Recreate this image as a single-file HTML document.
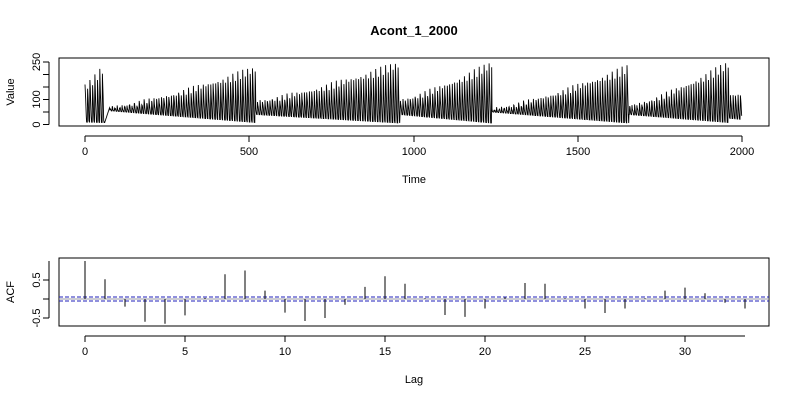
<!DOCTYPE html>
<html><head><meta charset="utf-8"><style>
body{margin:0;background:#fff;}
svg text{font-family:"Liberation Sans",sans-serif;font-size:11px;fill:#000;}
</style></head><body>
<svg id="s" width="800" height="400" xmlns="http://www.w3.org/2000/svg">
<rect width="800" height="400" fill="#fff"/>
<text x="414" y="35" text-anchor="middle" style="font-weight:bold;font-size:13px">Acont_1_2000</text>
<rect x="59" y="58" width="710" height="68" fill="none" stroke="#000" stroke-width="1"/>
<g id="ts"></g>
<g stroke="#000">
<line x1="85" y1="136" x2="742" y2="136"/>
<line x1="85" y1="136" x2="85" y2="142"/><line x1="249" y1="136" x2="249" y2="142"/><line x1="414" y1="136" x2="414" y2="142"/><line x1="578" y1="136" x2="578" y2="142"/><line x1="742" y1="136" x2="742" y2="142"/>
<line x1="49" y1="62" x2="49" y2="124.5"/>
<line x1="43" y1="124.5" x2="49" y2="124.5"/><line x1="43" y1="112" x2="49" y2="112"/><line x1="43" y1="99.5" x2="49" y2="99.5"/><line x1="43" y1="87" x2="49" y2="87"/><line x1="43" y1="74.5" x2="49" y2="74.5"/><line x1="43" y1="62" x2="49" y2="62"/>
</g>
<text x="85" y="155" text-anchor="middle">0</text><text x="249" y="155" text-anchor="middle">500</text><text x="414" y="155" text-anchor="middle">1000</text><text x="578" y="155" text-anchor="middle">1500</text><text x="742" y="155" text-anchor="middle">2000</text>
<g text-anchor="middle">
<text transform="translate(40,124.5) rotate(-90)">0</text>
<text transform="translate(40,99.5) rotate(-90)">100</text>
<text transform="translate(40,62) rotate(-90)">250</text>
</g>
<text x="414" y="183" text-anchor="middle">Time</text>
<text transform="translate(14,92) rotate(-90)" text-anchor="middle">Value</text>

<rect x="59" y="258" width="710" height="68" fill="none" stroke="#000"/>
<line x1="59" y1="297" x2="769" y2="297" stroke="#22b" stroke-dasharray="4,2"/>
<line x1="59" y1="301" x2="769" y2="301" stroke="#22b" stroke-dasharray="4,2"/>
<line x1="59" y1="299" x2="769" y2="299" stroke="#99a" stroke-width="1"/>
<g id="acf" stroke="#000"></g>
<g stroke="#000">
<line x1="85" y1="336" x2="745" y2="336"/>
<line x1="49" y1="261" x2="49" y2="318"/>
<line x1="43" y1="280" x2="49" y2="280"/><line x1="43" y1="299" x2="49" y2="299"/><line x1="43" y1="318" x2="49" y2="318"/>
</g>
<g id="lt"></g>
<g text-anchor="middle">
<text transform="translate(40,280) rotate(-90)">0.5</text>
<text transform="translate(40,318) rotate(-90)">-0.5</text>
</g>
<text x="414" y="383" text-anchor="middle">Lag</text>
<text transform="translate(14,292) rotate(-90)" text-anchor="middle">ACF</text>
</svg>
<script>
var NS="http://www.w3.org/2000/svg";
function X(t){return 85+t*0.3285;}function Y(v){return 124.5-v*0.25;}
var segs=[[0,60,160,240,10,8],[60,75,20,20,10,5],[75,520,68,230,55,8],[520,959,95,250,40,6],[959,1239,100,250,40,6],[1239,1656,62,235,50,6],[1656,1960,75,250,40,8],[1960,2000,120,125,25,20]];
var d="";var p=7.5;
for(var t=0;t<2000;t++){
 var s=segs[0];for(var i=0;i<segs.length;i++)if(t>=segs[i][0]&&t<segs[i][1])s=segs[i];
 var f=(t-s[0])/(s[1]-s[0]);
 var pk=s[2]+(s[3]-s[2])*Math.pow(f,1.3)+Math.sin(t*1.3)*8;
 var tr=s[4]+(s[5]-s[4])*f;
 var ph=(t%p)/p;var v=tr+(pk-tr)*Math.max(0,1-ph*1.6);
 if(s[2]==20)v=8+(t-60)*4;
 d+=(t?"L":"M")+X(t).toFixed(1)+","+Y(v).toFixed(1);
}
var pa=document.createElementNS(NS,"path");pa.setAttribute("d",d);pa.setAttribute("fill","none");pa.setAttribute("stroke","#000");pa.setAttribute("stroke-width","0.9");
document.getElementById("ts").appendChild(pa);
var a=[1,0.52,-0.2,-0.6,-0.65,-0.43,0.03,0.65,0.75,0.22,-0.36,-0.58,-0.5,-0.15,0.32,0.6,0.4,0.02,-0.42,-0.47,-0.25,0.05,0.42,0.4,0.02,-0.25,-0.37,-0.25,0.02,0.22,0.3,0.15,-0.1,-0.25];
var g=document.getElementById("acf");
a.forEach(function(v,k){var l=document.createElementNS(NS,"line");var x=85+k*20;l.setAttribute("x1",x);l.setAttribute("x2",x);l.setAttribute("y1",299);l.setAttribute("y2",299-v*38);g.appendChild(l);});
var lt=document.getElementById("lt");
[0,5,10,15,20,25,30].forEach(function(k){var x=85+k*20;var l=document.createElementNS(NS,"line");l.setAttribute("x1",x);l.setAttribute("x2",x);l.setAttribute("y1",336);l.setAttribute("y2",342);l.setAttribute("stroke","#000");lt.appendChild(l);
var tx=document.createElementNS(NS,"text");tx.setAttribute("x",x);tx.setAttribute("y",355);tx.setAttribute("text-anchor","middle");tx.textContent=k;lt.appendChild(tx);});
</script>
</body></html>
